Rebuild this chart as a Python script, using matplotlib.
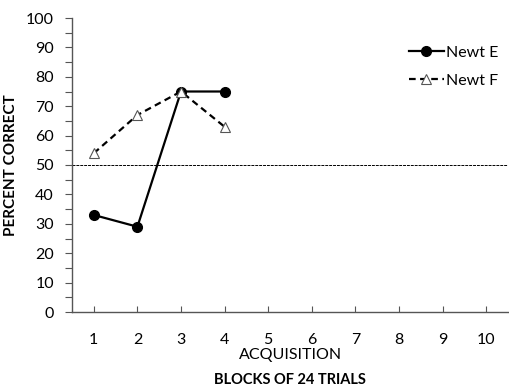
import matplotlib
matplotlib.use("Agg")
import matplotlib.pyplot as plt
from matplotlib.ticker import MultipleLocator

blocks = [1, 2, 3, 4]
newt_e = [33, 29, 75, 75]
newt_f = [54, 67, 75, 63]
x_ticks = list(range(1, 11))
chance = 50

plt.rcParams['font.family'] = ['Lato', 'DejaVu Sans']

fig = plt.figure(figsize=(5.09, 3.91), dpi=100)
ax = fig.add_axes([72/509, 1-312/391, 436/509, (312-18)/391])

ax.axhline(chance, color='black', lw=0.7, ls=(0, (3, 1)), zorder=1)
ax.plot(blocks, newt_e, color='black', lw=1.6, marker='o', markersize=7,
        label='Newt E', zorder=3)
ax.plot(blocks, newt_f, color='black', lw=1.6, ls=(0, (3, 2)), marker='^',
        markersize=7, markerfacecolor='white', markeredgecolor='#555555',
        markeredgewidth=0.8, label='Newt F', zorder=3)

ax.set_xlim(0.5, 10.5)
ax.set_ylim(0, 100)
ax.set_xticks(x_ticks)
ax.yaxis.set_major_locator(MultipleLocator(10))
ax.yaxis.set_minor_locator(MultipleLocator(5))
ax.tick_params(axis='y', which='major', direction='out', length=5, width=0.8,
               color='#555555', labelsize=11.5, pad=8)
ax.tick_params(axis='y', which='minor', direction='out', length=5, width=0.8,
               color='#555555')
ax.tick_params(axis='x', which='major', direction='in', length=4, width=0.8,
               color='#555555', labelsize=11.5, pad=15)
for s in ['top', 'right']:
    ax.spines[s].set_visible(False)
for s in ['left', 'bottom']:
    ax.spines[s].set_color('#555555')
    ax.spines[s].set_linewidth(1.0)

ax.set_ylabel('PERCENT CORRECT', fontsize=11, fontweight='bold')
ax.yaxis.set_label_coords((18-72)/436, 0.5)
ax.set_xlabel('ACQUISITION', fontsize=11.5)
ax.xaxis.set_label_coords(0.5 + 1/436, -(355-312)/294)
ax.xaxis.label.set_va('center')
fig.text((72 + 218)/509, 1-380/391, 'BLOCKS OF 24 TRIALS', fontsize=10.5,
         fontweight='bold', ha='center', va='center')

leg = ax.legend(loc='upper right', bbox_to_anchor=(1.01, 0.955), frameon=False,
                fontsize=11.5, handlelength=2.2, handletextpad=0.1,
                labelspacing=0.85, markerscale=1.0)

fig.savefig('out.png', dpi=100)
